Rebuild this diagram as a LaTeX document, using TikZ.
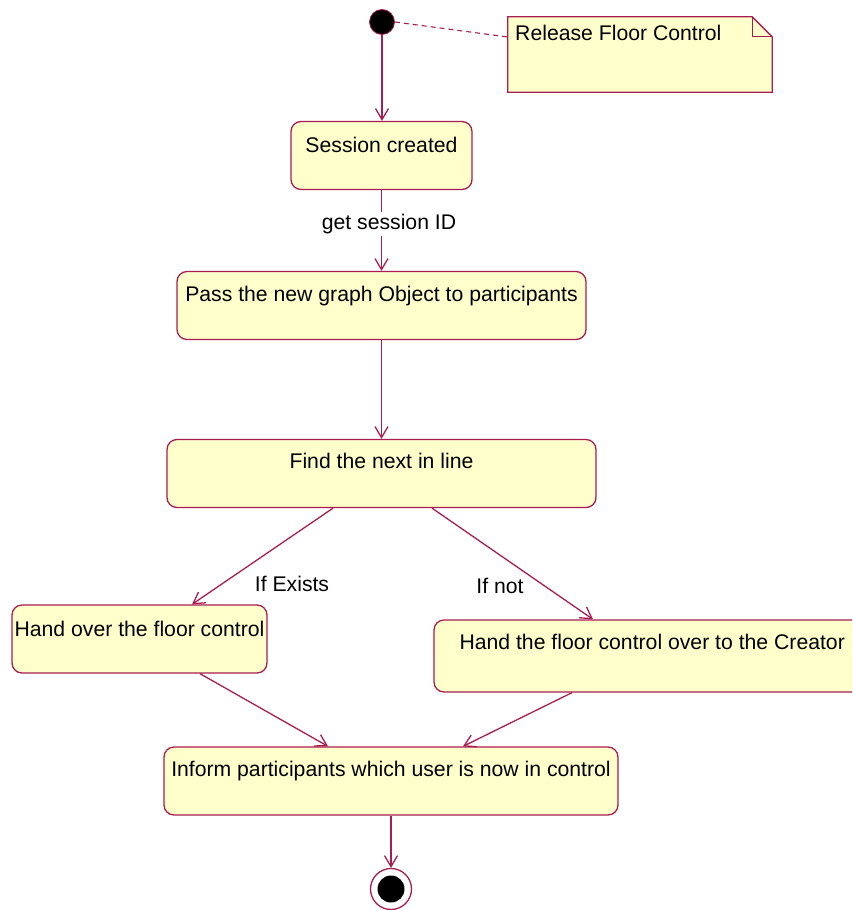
\documentclass[tikz,border=0pt]{standalone}
\usepackage{fontspec}
\setmainfont{Liberation Sans}
\usetikzlibrary{arrows.meta}
\definecolor{umlline}{RGB}{168,30,82}
\definecolor{umlfill}{RGB}{255,255,204}
\tikzset{
  actbox/.style={draw=umlline, fill=umlfill, line width=1.3pt, rounded corners=10pt,
    inner sep=0pt, minimum height=#1},
  actbox/.default=68pt,
  boxtext/.style={anchor=center, inner sep=0pt, font=\fontsize{21.2}{25}\selectfont},
  edgelabel/.style={fill=white, inner sep=2pt, font=\fontsize{21.2}{25}\selectfont},
  flow/.style={draw=umlline, line width=1.3pt, -{Straight Barb[length=11pt,width=13pt,line width=1.3pt]}},
}
\begin{document}
\begin{tikzpicture}[x=1pt, y=-1pt]
\clip (0,0) rectangle (852,910);
\fill[white] (0,0) rectangle (852,910);

% start and end states
\node[circle, fill=black, draw=umlline, line width=0.8pt, minimum size=25pt, inner sep=0pt] (init) at (382,22) {};
\node[circle, fill=white, draw=umlline, line width=1.3pt, minimum size=41pt, inner sep=0pt] (final) at (391,889) {};
\node[circle, fill=black, minimum size=27pt, inner sep=0pt] (finaldot) at (final.center) {};

% note
\node[minimum width=264pt, minimum height=75pt, inner sep=0pt] (note) at (640,54.5) {};
\draw[umlline, line width=1.3pt, fill=umlfill]
  (note.north west) -- ([xshift=-20pt]note.north east) -- ([yshift=-20pt]note.north east)
  -- (note.south east) -- (note.south west) -- cycle;
\draw[umlline, line width=1.3pt]
  ([xshift=-20pt]note.north east) -- ([xshift=-20pt,yshift=-20pt]note.north east) -- ([yshift=-20pt]note.north east);
\node[boxtext, anchor=west] (notetext) at (515,33) {Release Floor Control};
\draw[umlline, line width=1.1pt, dashed, dash pattern=on 5pt off 4pt] (init.east) -- ([yshift=17.5pt]note.west);

% activity states
\node[actbox, minimum width=181pt] (session) at (381.5,155.5) {};
\node[actbox, minimum width=409pt] (pass) at (381.5,305.5) {};
\node[actbox, minimum width=429pt] (find) at (381.5,473.5) {};
\node[actbox, minimum width=255pt] (handover) at (139.5,639) {};
\node[actbox=72pt, minimum width=432pt] (creator) at (650,656) {};
\node[actbox, minimum width=454pt] (inform) at (391,781) {};

\node[boxtext] (tsession) at ([yshift=-24pt]session.north) {Session created};
\node[boxtext] (tpass) at ([yshift=-25pt]pass.north) {Pass the new graph Object to participants};
\node[boxtext] (tfind) at ([yshift=-22pt]find.north) {Find the next in line};
\node[boxtext] (thandover) at ([yshift=-25pt]handover.north) {Hand over the floor control};
\node[boxtext, anchor=west] (tcreator) at ([xshift=26pt,yshift=-23pt]creator.north west) {Hand the floor control over to the Creator};
\node[boxtext] (tinform) at ([yshift=-25pt]inform.north) {Inform participants which user is now in control};

% transitions
\draw[flow] (init.south) -- (init.south |- session.north);
\draw[flow] (session.south) -- (pass.north);
\node[edgelabel] (lsession) at (389,224) {get session ID};
\draw[flow] (pass.south) -- (find.north);
\draw[flow] ([xshift=-48.5pt]find.south) -- ([xshift=52.5pt]handover.north);
\draw[flow] ([xshift=50.5pt]find.south) -- ([xshift=-57pt]creator.north);
\node[boxtext] (lexists) at (292,584) {If Exists};
\node[boxtext] (lnot) at (500,586) {If not};
\draw[flow] ([xshift=60.5pt]handover.south) -- ([xshift=-63pt]inform.north);
\draw[flow] ([xshift=-78pt]creator.south) -- ([xshift=72pt]inform.north);
\draw[flow] (inform.south) -- (final.north);
\end{tikzpicture}
\end{document}
